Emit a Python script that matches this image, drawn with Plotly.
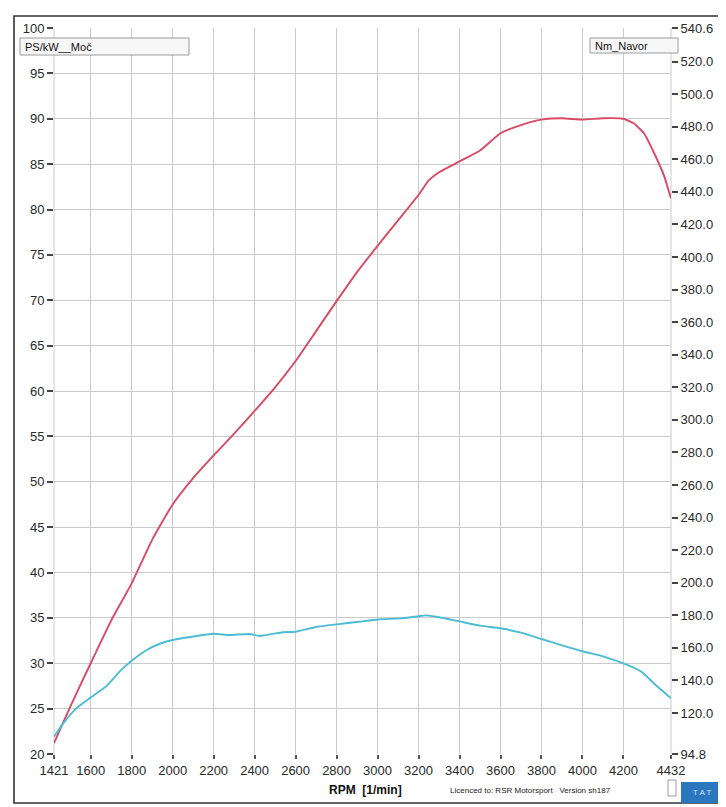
import plotly.graph_objects as go

# ---------------- data ----------------
rpm_power = [1421, 1500, 1600, 1700, 1800, 1900, 2000, 2100, 2200, 2300, 2400, 2500,
             2600, 2700, 2800, 2900, 3000, 3100, 3200, 3250, 3300, 3400, 3500, 3600,
             3700, 3800, 3900, 4000, 4100, 4200, 4250, 4300, 4350, 4400, 4432]
power_ps = [21.2, 25.2, 30.0, 34.7, 38.8, 43.6, 47.5, 50.4, 52.9, 55.3, 57.8, 60.4,
            63.3, 66.6, 69.9, 73.1, 76.0, 78.8, 81.6, 83.2, 84.1, 85.3, 86.5, 88.4,
            89.3, 89.9, 90.05, 89.9, 90.05, 90.0, 89.5, 88.4, 86.2, 83.6, 81.2]

rpm_torque = [1421, 1466, 1531, 1600, 1677, 1742, 1800, 1872, 1937, 2000, 2095, 2200,
              2277, 2375, 2424, 2537, 2600, 2700, 2800, 2910, 3000, 3110, 3200, 3237,
              3295, 3400, 3500, 3600, 3700, 3800, 3900, 4000, 4100, 4200, 4288, 4353, 4432]
torque_nm = [105.4, 113.6, 123.0, 129.5, 136.5, 145.5, 152.0, 158.5, 162.5, 164.8, 166.8, 168.6,
             167.9, 168.5, 167.3, 169.6, 169.9, 172.8, 174.4, 176.0, 177.4, 178.1, 179.4, 179.9,
             178.9, 176.2, 173.6, 172.0, 169.3, 165.4, 161.5, 157.9, 154.8, 150.4, 145.3, 137.6, 129.0]

x_ticks = [1421, 1600, 1800, 2000, 2200, 2400, 2600, 2800, 3000, 3200, 3400, 3600, 3800, 4000, 4200, 4432]
left_ticks = [20, 25, 30, 35, 40, 45, 50, 55, 60, 65, 70, 75, 80, 85, 90, 95, 100]
right_ticks = [94.8, 120, 140, 160, 180, 200, 220, 240, 260, 280, 300, 320, 340, 360, 380,
               400, 420, 440, 460, 480, 500, 520, 540.6]

power_label = "PS/kW__Moč"
torque_label = "Nm_Navor"
x_title = "RPM  [1/min]"
licence_text = "Licenced to: RSR Motorsport   Version sh187"

RED = "#d94a63"
CYAN = "#4cbcd4"
GRID = "#c9cbcd"
FONT = "Liberation Sans Narrow, Arial Narrow, Liberation Sans, Arial, sans-serif"

fig = go.Figure()
fig.add_trace(go.Scatter(x=rpm_power, y=power_ps, mode="lines", name=power_label,
                         line=dict(color=RED, width=1.9, shape="spline", smoothing=0.5), yaxis="y"))
fig.add_trace(go.Scatter(x=rpm_torque, y=torque_nm, mode="lines", name=torque_label,
                         line=dict(color=CYAN, width=1.9, shape="spline", smoothing=0.5), yaxis="y2"))

fig.update_layout(
    width=718, height=799,
    margin=dict(l=46, r=55, t=20, b=53),
    paper_bgcolor="white", plot_bgcolor="white",
    showlegend=False,
    font=dict(family=FONT, color="#2a2a2a", size=13),
    xaxis=dict(range=[1421, 4432], tickvals=x_ticks, ticktext=[str(v) for v in x_ticks],
               showgrid=True, gridcolor=GRID, gridwidth=1, zeroline=False, showline=False,
               ticks="outside", ticklen=4, tickcolor="#555", tickwidth=2,
               tickfont=dict(size=13, color="#2a2a2a")),
    yaxis=dict(range=[20, 100], tickvals=left_ticks, ticktext=[str(v) for v in left_ticks],
               showgrid=True, gridcolor=GRID, gridwidth=1, zeroline=False, showline=False,
               ticks="outside", ticklen=6, tickcolor="#444", tickwidth=1.5,
               tickfont=dict(size=13, color="#2a2a2a")),
    yaxis2=dict(range=[94.8, 540.6], overlaying="y", side="right",
                tickvals=right_ticks, ticktext=[f"{v:.1f}" for v in right_ticks],
                showgrid=False, zeroline=False, showline=False,
                ticks="outside", ticklen=6, tickcolor="#444", tickwidth=1.5,
                tickfont=dict(size=13, color="#2a2a2a")),
)

# plot edge lines (left/right)
fig.add_shape(type="line", xref="paper", yref="paper", x0=0, x1=0, y0=0, y1=1,
              line=dict(color=GRID, width=1), layer="below")
fig.add_shape(type="line", xref="paper", yref="paper", x0=1, x1=1, y0=0, y1=1,
              line=dict(color=GRID, width=1), layer="below")

# helpers: reference-pixel -> paper coordinates (plot area 54..671 x 28..754)
W, H = 617.0, 726.0
def px(xp):
    return (xp - 54) / W
def py(yp):
    return (754 - yp) / H

# outer frame
fig.add_shape(type="rect", xref="paper", yref="paper",
              x0=px(14), x1=px(723), y0=py(803), y1=py(16),
              line=dict(color="#333", width=1.6), fillcolor="rgba(0,0,0,0)", layer="above")

# label boxes
fig.add_shape(type="rect", xref="paper", yref="paper",
              x0=px(20), x1=px(189), y0=py(55), y1=py(38),
              line=dict(color="#9a9a9a", width=1), fillcolor="#f7f7f7", layer="above")
fig.add_annotation(xref="paper", yref="paper", x=px(23), y=py(46.5), text=power_label,
                   showarrow=False, xanchor="left", yanchor="middle",
                   font=dict(size=11, color="#111", family=FONT))
fig.add_shape(type="rect", xref="paper", yref="paper",
              x0=px(590), x1=px(678), y0=py(53), y1=py(38),
              line=dict(color="#9a9a9a", width=1), fillcolor="#f7f7f7", layer="above")
fig.add_annotation(xref="paper", yref="paper", x=px(593), y=py(45.5), text=torque_label,
                   showarrow=False, xanchor="left", yanchor="middle",
                   font=dict(size=11, color="#111", family=FONT))

# bottom texts
fig.add_annotation(xref="paper", yref="paper", x=px(366), y=py(790), text="<b>" + x_title + "</b>",
                   showarrow=False, xanchor="center", yanchor="middle",
                   font=dict(size=12, color="#111", family=FONT))
fig.add_annotation(xref="paper", yref="paper", x=px(530), y=py(790), text=licence_text,
                   showarrow=False, xanchor="center", yanchor="middle",
                   font=dict(size=8, color="#222", family=FONT))

# small box and TAT logo
fig.add_shape(type="rect", xref="paper", yref="paper",
              x0=px(668), x1=px(676), y0=py(796), y1=py(780),
              line=dict(color="#999", width=1), fillcolor="white", layer="above")
fig.add_shape(type="rect", xref="paper", yref="paper",
              x0=px(681), x1=px(722), y0=py(803), y1=py(782),
              line=dict(color="#2b77bf", width=0), fillcolor="#2b77bf", layer="above")
fig.add_annotation(xref="paper", yref="paper", x=px(701.5), y=py(792.5), text="T A T",
                   showarrow=False, xanchor="center", yanchor="middle",
                   font=dict(size=8, color="#cfe3f7", family=FONT))

fig.write_html("out.html")
